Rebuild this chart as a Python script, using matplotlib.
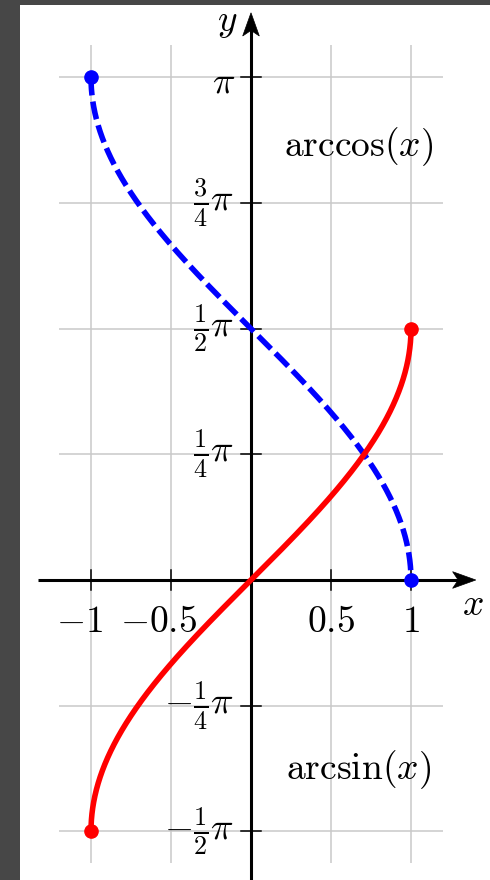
import numpy as np
import matplotlib
matplotlib.use("Agg")
import matplotlib.pyplot as plt
from matplotlib.patches import Rectangle, Polygon

plt.rcParams["mathtext.fontset"] = "cm"
plt.rcParams["lines.scale_dashes"] = False

# ---- data -------------------------------------------------------------
x_ticks = [-1.0, -0.5, 0.5, 1.0]
x_tick_labels = [r"$-1$", r"$-0.5$", r"$0.5$", r"$1$"]
y_ticks = [-np.pi / 2, -np.pi / 4, np.pi / 4, np.pi / 2, 3 * np.pi / 4, np.pi]
y_tick_labels = [r"$-\frac{1}{2}\pi$", r"$-\frac{1}{4}\pi$", r"$\frac{1}{4}\pi$",
                 r"$\frac{1}{2}\pi$", r"$\frac{3}{4}\pi$", r"$\pi$"]
x_domain = np.sin(np.linspace(-np.pi / 2, np.pi / 2, 1201))   # dense near the ends
arcsin_vals = np.arcsin(x_domain)
arccos_vals = np.arccos(x_domain)
x_ends = [-1.0, 1.0]
arcsin_ends = [np.arcsin(-1.0), np.arcsin(1.0)]
arccos_ends = [np.arccos(-1.0), np.arccos(1.0)]

# ---- figure -----------------------------------------------------------
W, H = 490, 880
fig = plt.figure(figsize=(W / 100, H / 100), dpi=100)
fig.patch.set_facecolor("#474747")

ax = fig.add_axes([0, 0, 1, 1])
ax.patch.set_alpha(0)
ax.set_xlim(-251 / 160, 239 / 160)
ax.set_ylim(-300 / 160, 580 / 160)
ax.axis("off")

# white page behind the plot
ax.add_patch(Rectangle((20 / W, 0), 470 / W, 875 / H, transform=fig.transFigure,
                       facecolor="white", edgecolor="none", zorder=0, clip_on=False))

xmin, xmax = -1.2, 1.2
ymin, ymax = -np.pi / 2 - 0.2, np.pi + 0.2
grid_c = "#c9c9c9"

# grid
ax.vlines(x_ticks, ymin, ymax, color=grid_c, lw=1.1, zorder=1)
ax.hlines(y_ticks, xmin, xmax, color=grid_c, lw=1.1, zorder=1)

# axis lines with stealth-style arrow heads
ax_lw = 2.2
ax.plot([-1.33, 1.30], [0, 0], color="black", lw=ax_lw, solid_capstyle="butt", zorder=3)
ax.plot([0, 0], [-2.0, 3.45], color="black", lw=ax_lw, solid_capstyle="butt", zorder=3)
L, Wd, N = 0.145, 0.052, 0.11
tipx, tipy = 1.405, 3.545
ax.add_patch(Polygon([(tipx, 0), (tipx - L, Wd), (tipx - N, 0), (tipx - L, -Wd)],
                     closed=True, facecolor="black", edgecolor="black", lw=0.5, zorder=3))
ax.add_patch(Polygon([(0, tipy), (Wd, tipy - L), (0, tipy - N), (-Wd, tipy - L)],
                     closed=True, facecolor="black", edgecolor="black", lw=0.5, zorder=3))

# ticks
tk = 0.065
for xt in x_ticks:
    ax.plot([xt, xt], [-tk, tk], color="black", lw=1.1, zorder=3)
for yt in y_ticks:
    ax.plot([-tk, tk], [yt, yt], color="black", lw=1.1, zorder=3)

fs = 27
# x tick labels: digits centred on the tick, minus sign hanging to the left
for xt, lab in zip(x_ticks, x_tick_labels):
    shift = -0.075 if xt < 0 else 0.0
    ax.text(xt + shift, -0.322, lab, ha="center", va="baseline", fontsize=fs, zorder=4)

# y tick labels
for yt, lab in zip(y_ticks, y_tick_labels):
    if "frac" in lab:
        ax.text(-0.105, yt, lab, ha="right", va="center", fontsize=fs, zorder=4)
    else:
        ax.text(-0.100, yt - 0.095, lab, ha="right", va="baseline", fontsize=fs, zorder=4)

ax.text(1.3875, -0.156, r"$x$", ha="center", va="center", fontsize=fs, zorder=4)
ax.text(-0.15, 3.49, r"$y$", ha="center", va="center", fontsize=fs, zorder=4)

# curves
ax.plot(x_domain, arccos_vals, color="#0000ff", lw=4.0, linestyle=(0, (13, 4.5)),
        dash_capstyle="butt", zorder=5)
ax.plot(x_ends, arccos_ends, "o", color="#0000ff", ms=9.5, zorder=6)
ax.plot(x_domain, arcsin_vals, color="#ff0000", lw=4.0, solid_capstyle="butt", zorder=5)
ax.plot(x_ends, arcsin_ends, "o", color="#ff0000", ms=9.5, zorder=6)

ax.text(0.675, 2.71, r"$\mathrm{arccos}(x)$", ha="center", va="center", fontsize=fs, zorder=4)
ax.text(0.669, -1.1875, r"$\mathrm{arcsin}(x)$", ha="center", va="center", fontsize=fs, zorder=4)

fig.savefig("out.png", dpi=100, facecolor=fig.get_facecolor())
